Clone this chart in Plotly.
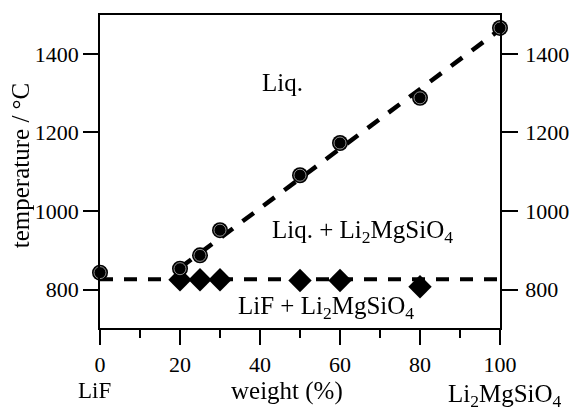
import plotly.graph_objects as go

# ---- data ----
liq_x = [0, 20, 25, 30, 50, 60, 80, 100]
liq_t = [843, 853, 887, 951, 1091, 1173, 1288, 1466]
sol_x = [20, 25, 30, 50, 60, 80]
sol_t = [825, 825, 825, 823, 823, 807]
liquidus_line_x = [20, 100]
liquidus_line_t = [855, 1462]
solidus_line_x = [0, 100]
solidus_line_t = [826, 826]
x_ticks = [0, 20, 40, 60, 80, 100]
y_ticks = [800, 1000, 1200, 1400]

FONT = "Liberation Serif"
fig = go.Figure()

fig.add_trace(go.Scatter(x=solidus_line_x, y=solidus_line_t, mode="lines",
                         line=dict(color="black", width=4, dash="13px,11px"),
                         showlegend=False, cliponaxis=False))
fig.add_trace(go.Scatter(x=liquidus_line_x, y=liquidus_line_t, mode="lines",
                         line=dict(color="black", width=4.5, dash="14px,12px"),
                         showlegend=False, cliponaxis=False))
fig.add_trace(go.Scatter(x=sol_x, y=sol_t, mode="markers",
                         marker=dict(symbol="diamond", size=18, color="black"),
                         showlegend=False, cliponaxis=False))
fig.add_trace(go.Scatter(x=liq_x, y=liq_t, mode="markers",
                         marker=dict(symbol="circle", size=16, color="black",
                                     line=dict(color="black", width=0)),
                         showlegend=False, cliponaxis=False))
fig.add_trace(go.Scatter(x=liq_x, y=liq_t, mode="markers",
                         marker=dict(symbol="circle-open", size=12, color="white",
                                     line=dict(color="white", width=0.8)),
                         opacity=0.7, showlegend=False, cliponaxis=False))
# invisible trace to activate right axis
fig.add_trace(go.Scatter(x=[None], y=[None], yaxis="y2", showlegend=False))

yrange = [702, 1499]
fig.update_layout(
    width=569, height=415,
    margin=dict(l=100, r=69, t=14.5, b=87.3, autoexpand=False),
    paper_bgcolor="white", plot_bgcolor="white",
    font=dict(family=FONT, size=22, color="black"),
    xaxis=dict(range=[0, 100], tickmode="array", tickvals=x_ticks,
               ticks="outside", ticklen=15, tickwidth=1.5, tickcolor="black",
               minor=dict(dtick=10, ticks="outside", ticklen=8, tickwidth=1.5, tickcolor="black"),
               showline=True, linecolor="black", linewidth=1.5, mirror=True,
               showgrid=False, zeroline=False, ticklabelstandoff=1, automargin=False,
               tickfont=dict(family=FONT, size=22)),
    yaxis=dict(range=yrange, tickmode="array", tickvals=y_ticks,
               ticks="outside", ticklen=15, tickwidth=1.5, tickcolor="black",
               showline=True, linecolor="black", linewidth=1.5, automargin=False,
               showgrid=False, zeroline=False, ticklabelstandoff=0,
               tickfont=dict(family=FONT, size=22)),
    yaxis2=dict(range=yrange, overlaying="y", side="right", tickmode="array",
                tickvals=y_ticks, ticks="outside", ticklen=16, tickwidth=1.5,
                tickcolor="black", showline=True, linecolor="black", linewidth=1.5,
                showgrid=False, zeroline=False, ticklabelstandoff=3, automargin=False,
                tickfont=dict(family=FONT, size=22)),
)

ann_font = dict(family=FONT, size=25, color="black")
annotations = [
    dict(text="Liq.", x=45.5, y=1327, xref="x", yref="y", showarrow=False, font=ann_font,
         xanchor="center", yanchor="middle"),
    dict(text="Liq. + Li<sub>2</sub>MgSiO<sub>4</sub>", x=65.5, y=947, xref="x", yref="y",
         showarrow=False, font=ann_font, xanchor="center", yanchor="middle"),
    dict(text="LiF + Li<sub>2</sub>MgSiO<sub>4</sub>", x=56.5, y=754, xref="x", yref="y",
         showarrow=False, font=ann_font, xanchor="center", yanchor="middle"),
    dict(text="temperature / °C", x=-0.2, y=0.52, xref="paper", yref="paper",
         textangle=-90, showarrow=False, font=ann_font, xanchor="center", yanchor="middle"),
    dict(text="LiF", x=-0.014, y=-0.2, xref="paper", yref="paper",
         showarrow=False, font=dict(family=FONT, size=23, color="black"),
         xanchor="center", yanchor="middle"),
    dict(text="weight (%)", x=0.4675, y=-0.2, xref="paper", yref="paper",
         showarrow=False, font=ann_font, xanchor="center", yanchor="middle"),
    dict(text="Li<sub>2</sub>MgSiO<sub>4</sub>", x=1.0125, y=-0.215, xref="paper", yref="paper",
         showarrow=False, font=ann_font, xanchor="center", yanchor="middle"),
]
fig.update_layout(annotations=annotations)

fig.write_html("out.html")
